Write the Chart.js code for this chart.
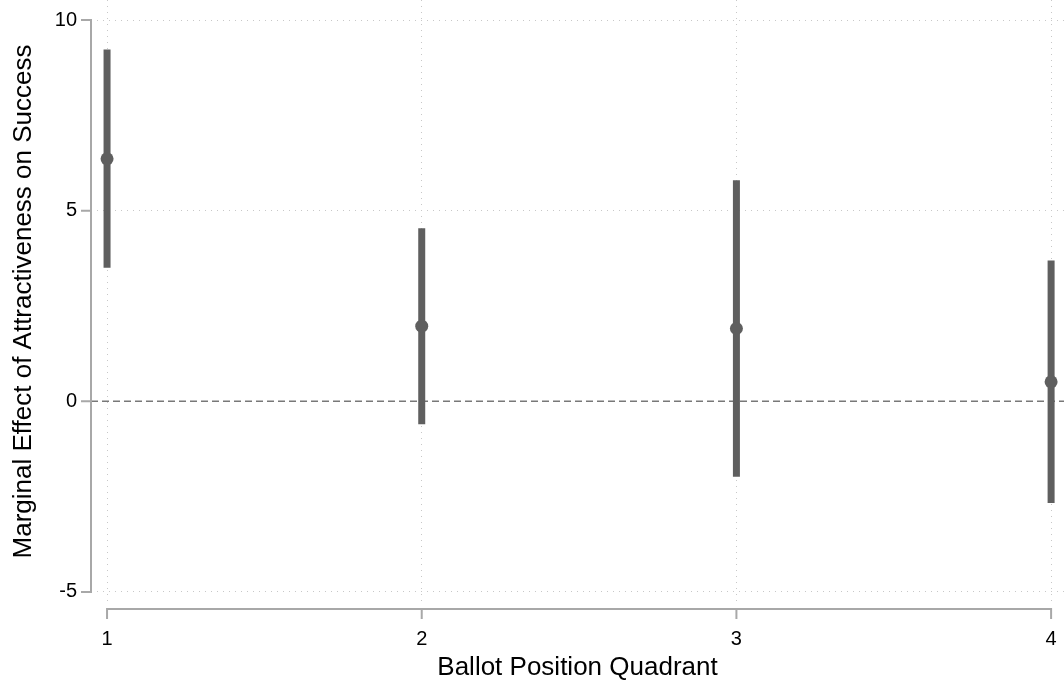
<!DOCTYPE html>
<html>
<head>
<meta charset="utf-8">
<script src="https://cdn.jsdelivr.net/npm/chart.js@4/dist/chart.umd.min.js"></script>
<style>
  html, body { margin: 0; padding: 0; background: #fff; }
  #wrap { width: 1064px; height: 689px; position: relative; }
</style>
</head>
<body>
<div id="wrap"><canvas id="c"></canvas></div>
<script>
// Marginal effect of attractiveness by ballot position quadrant (point estimate + confidence interval)
const quadrants = [1, 2, 3, 4];
const effect    = [6.36, 1.97, 1.91, 0.51];
const ciLower   = [3.50, -0.60, -1.98, -2.67];
const ciUpper   = [9.23, 4.54, 5.80, 3.69];
const xTicks    = [1, 2, 3, 4];
const yTicks    = [-5, 0, 5, 10];

const markColor = '#5f5f5f';
const axisColor = '#a8a8a8';
const gridColor = '#c8c8c8';
const FONT = 'Liberation Sans, Arial, Helvetica, sans-serif';

// Offset (detached) axis lines, tick marks and the dashed zero reference line
const frame = {
  id: 'frame',
  beforeDatasetsDraw(chart) {
    const { ctx, chartArea: a, scales: { x, y } } = chart;
    ctx.save();
    const y0 = y.getPixelForValue(0);
    ctx.strokeStyle = '#787878';
    ctx.lineWidth = 1.5;
    ctx.setLineDash([7, 4]);
    ctx.beginPath();
    ctx.moveTo(a.left, y0);
    ctx.lineTo(a.right, y0);
    ctx.stroke();
    ctx.setLineDash([]);

    ctx.strokeStyle = axisColor;
    ctx.lineWidth = 2;
    ctx.lineCap = 'butt';
    ctx.beginPath();
    const ax = a.left;
    const yTop = y.getPixelForValue(yTicks[yTicks.length - 1]);
    const yBot = y.getPixelForValue(yTicks[0]);
    ctx.moveTo(ax, yTop - 1);
    ctx.lineTo(ax, yBot + 1);
    yTicks.forEach(v => {
      const p = y.getPixelForValue(v);
      ctx.moveTo(ax - 10, p);
      ctx.lineTo(ax, p);
    });
    const ay = a.bottom + 6;
    const xL = x.getPixelForValue(xTicks[0]);
    const xR = x.getPixelForValue(xTicks[xTicks.length - 1]);
    ctx.moveTo(xL - 1, ay);
    ctx.lineTo(xR + 1, ay);
    xTicks.forEach(v => {
      const p = x.getPixelForValue(v);
      ctx.moveTo(p, ay);
      ctx.lineTo(p, ay + 10);
    });
    ctx.stroke();
    ctx.restore();
  }
};

// no extra space for overhanging tick labels: the plot area runs to the canvas edges
const noOverhang = s => {
  s.paddingTop = 0; s.paddingBottom = 0; s.paddingLeft = 0; s.paddingRight = 0;
};

const intervalSets = quadrants.map((q, i) => ({
  type: 'line',
  data: [{ x: q, y: ciLower[i] }, { x: q, y: ciUpper[i] }],
  borderColor: markColor,
  borderWidth: 7,
  borderCapStyle: 'butt',
  pointRadius: 0,
  fill: false,
  clip: false,
  order: 2
}));

const pointSet = {
  type: 'scatter',
  data: quadrants.map((q, i) => ({ x: q, y: effect[i] })),
  backgroundColor: markColor,
  borderWidth: 0,
  pointRadius: 6.5,
  clip: false,
  order: 1
};

new Chart(document.getElementById('c'), {
  type: 'scatter',
  data: { datasets: [...intervalSets, pointSet] },
  plugins: [frame],
  options: {
    responsive: true,
    maintainAspectRatio: false,
    animation: false,
    layout: { padding: 0, autoPadding: false },
    plugins: { legend: { display: false }, tooltip: { enabled: false } },
    scales: {
      x: {
        type: 'linear',
        min: 0.949,
        max: 4.041,
        afterBuildTicks: s => { s.ticks = xTicks.map(v => ({ value: v })); },
        afterFit: s => { s.height = 86; noOverhang(s); },
        grid: { color: gridColor, lineWidth: 1, drawTicks: false },
        border: { display: false, dash: [1, 5] },
        ticks: { color: '#000', font: { family: FONT, size: 20 }, padding: 24, maxRotation: 0 },
        title: {
          display: true,
          text: 'Ballot Position Quadrant',
          color: '#000',
          font: { family: FONT, size: 26 },
          padding: { top: 0, bottom: 6 }
        }
      },
      y: {
        type: 'linear',
        min: -5.29,
        max: 10.525,
        afterBuildTicks: s => { s.ticks = yTicks.map(v => ({ value: v })); },
        afterFit: s => { s.width = 91; noOverhang(s); },
        grid: {
          color: c => (c.tick && c.tick.value === 0) ? 'rgba(0,0,0,0)' : gridColor,
          lineWidth: 1,
          drawTicks: false
        },
        border: { display: false, dash: [1, 5] },
        ticks: { color: '#000', font: { family: FONT, size: 20 }, padding: 14 },
        title: {
          display: true,
          text: 'Marginal Effect of Attractiveness on Success',
          color: '#000',
          font: { family: FONT, size: 26 },
          padding: { top: 8, bottom: 0 }
        }
      }
    }
  }
});
</script>
</body>
</html>
